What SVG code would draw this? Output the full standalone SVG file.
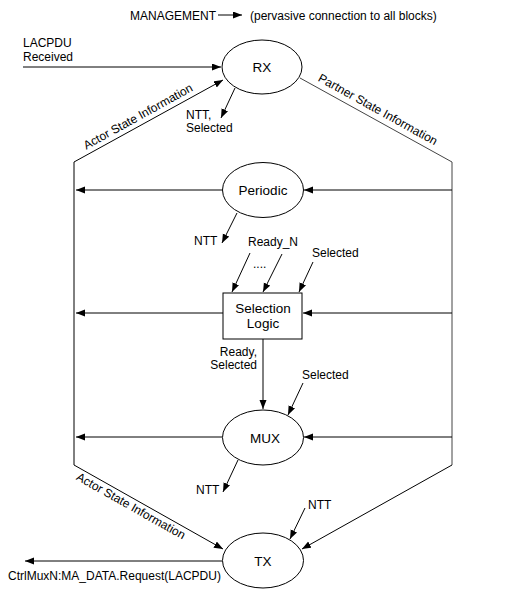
<svg xmlns="http://www.w3.org/2000/svg" width="532" height="601" viewBox="0 0 532 601">
<defs>
<marker id="ah" markerUnits="userSpaceOnUse" markerWidth="10" markerHeight="8" refX="9" refY="3.5" orient="auto">
<path d="M0,0 L9,3.5 L0,7 z" fill="#000"/>
</marker>
<style>
text{font-family:"Liberation Sans",Arial,sans-serif;font-size:12px;fill:#000}
.n{font-size:13.5px}
.node{fill:#fff;stroke:#000;stroke-width:1}
.c{fill:none;stroke:#000;stroke-width:1}
.a{fill:none;stroke:#000;stroke-width:1;marker-end:url(#ah)}
.b{fill:none;stroke:#444;stroke-width:1}
</style>
</defs>
<rect width="532" height="601" fill="#fff"/>
<g id="connectors">
<line class="a" x1="218" y1="15" x2="242" y2="15"/>
<line class="a" x1="23" y1="67" x2="221" y2="67"/>
<polyline class="a" points="74,465 74,162 223,80"/>
<polyline class="b" points="300,78 452,162 452,465"/>
<polyline class="a" points="74,465 223,549"/>
<polyline class="a" points="452,465 302,549"/>
<line class="a" x1="235" y1="88" x2="221" y2="118"/>
<line class="a" x1="222" y1="190" x2="76" y2="190"/>
<line class="a" x1="452" y1="190" x2="304" y2="190"/>
<line class="a" x1="237" y1="213" x2="222" y2="243"/>
<line class="a" x1="250" y1="253" x2="232" y2="292"/>
<line class="a" x1="282" y1="254" x2="263" y2="292"/>
<line class="a" x1="313" y1="262" x2="299" y2="292"/>
<line class="a" x1="223" y1="313" x2="76" y2="313"/>
<line class="a" x1="452" y1="313" x2="303" y2="313"/>
<line class="a" x1="263" y1="339" x2="263" y2="409"/>
<line class="a" x1="303" y1="383" x2="288" y2="415"/>
<line class="a" x1="222" y1="437" x2="76" y2="437"/>
<line class="a" x1="452" y1="437" x2="304" y2="437"/>
<line class="a" x1="238" y1="460" x2="223" y2="492"/>
<line class="a" x1="305" y1="508" x2="290" y2="539"/>
<line class="a" x1="222" y1="561" x2="25" y2="561"/>
</g>
<g id="labels">
<text x="130" y="20">MANAGEMENT</text>
<text x="250" y="20">(pervasive connection to all blocks)</text>
<text x="23" y="47">LACPDU</text>
<text x="23" y="61">Received</text>
<text x="140" y="120" text-anchor="middle" transform="rotate(-29 140 120)">Actor State Information</text>
<text x="376" y="113" text-anchor="middle" transform="rotate(29 376 113)">Partner State Information</text>
<text x="129" y="509.5" text-anchor="middle" transform="rotate(29.4 129 509.5)">Actor State Information</text>
<text x="186" y="119">NTT,</text>
<text x="186" y="132">Selected</text>
<text x="194" y="245">NTT</text>
<text x="248" y="246">Ready_N</text>
<text x="253" y="268">....</text>
<text x="312" y="257">Selected</text>
<text x="257" y="356" text-anchor="end">Ready,</text>
<text x="257" y="369" text-anchor="end">Selected</text>
<text x="302" y="379">Selected</text>
<text x="196" y="494">NTT</text>
<text x="308" y="509">NTT</text>
<text x="8" y="580">CtrlMuxN:MA_DATA.Request(LACPDU)</text>
</g>
<g id="rx"><ellipse class="node" cx="262" cy="67" rx="40" ry="27"/><text class="n" x="262" y="72" text-anchor="middle">RX</text></g>
<g id="periodic"><ellipse class="node" cx="263" cy="190" rx="40.5" ry="27.5"/><text class="n" x="263" y="195" text-anchor="middle">Periodic</text></g>
<g id="selection"><rect class="node" x="223" y="293" width="79" height="46"/><text class="n" x="263" y="313" text-anchor="middle">Selection</text><text class="n" x="263" y="328" text-anchor="middle">Logic</text></g>
<g id="mux"><ellipse class="node" cx="263" cy="437.5" rx="40.5" ry="27.5"/><text class="n" x="265" y="443" text-anchor="middle">MUX</text></g>
<g id="tx"><ellipse class="node" cx="263" cy="560.5" rx="40.5" ry="27.5"/><text class="n" x="263" y="566" text-anchor="middle">TX</text></g>
</svg>
